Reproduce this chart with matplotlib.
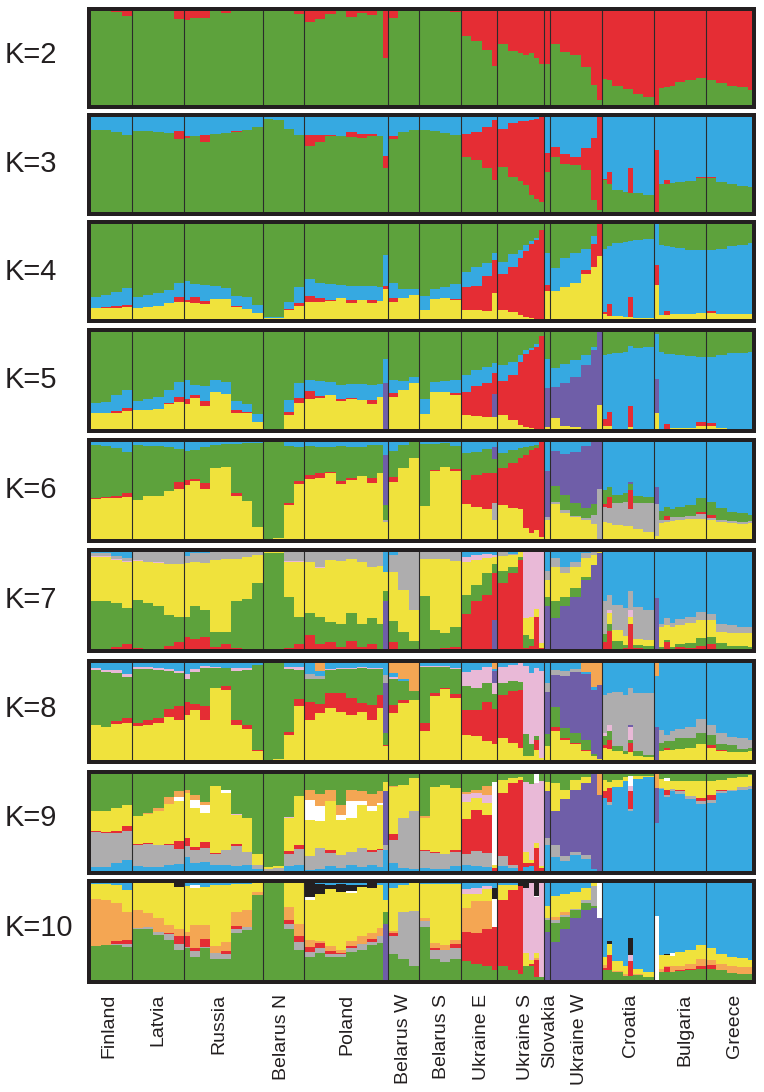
import numpy as np
import matplotlib
matplotlib.use("Agg")
import matplotlib.pyplot as plt

plt.rcParams['font.family'] = ['Liberation Sans', 'DejaVu Sans']

populations = ['Finland', 'Latvia', 'Russia', 'Belarus N', 'Poland', 'Belarus W', 'Belarus S',
               'Ukraine E', 'Ukraine S', 'Slovakia', 'Ukraine W', 'Croatia', 'Bulgaria', 'Greece']
pop_units = {
    'Finland': [2, 2, 2, 2], 'Latvia': [2, 2, 2, 2, 2], 'Russia': [1, 2, 2, 2, 2, 2, 2, 2],
    'Belarus N': [2, 2, 2, 2], 'Poland': [2, 2, 2, 2, 2, 2, 2, 1, 1], 'Belarus W': [2, 2, 2],
    'Belarus S': [2, 2, 2, 2], 'Ukraine E': [2, 2, 2, 1], 'Ukraine S': [2, 2, 1, 1, 1, 1, 1],
    'Slovakia': [1], 'Ukraine W': [2, 2, 2, 2, 1, 1], 'Croatia': [1, 1, 2, 1, 1, 2, 2],
    'Bulgaria': [1, 1, 1, 1, 2, 2, 2], 'Greece': [2, 2, 2, 2, 1],
}

GREEN, RED, BLUE, YELLOW = '#5da23c', '#e52d34', '#36a9e1', '#f0e23c'
PURPLE, GRAY, PINK, ORANGE, BLACK, WHITE = '#6f5ea8', '#aeadae', '#e9b9d7', '#f4a653', '#231f20', '#ffffff'

k2_green = [100,100,99,95, 100,100,100,100,92, 90,93,93,100,98,100,100,100, 100,100,100,97, 88,92,97,100,94,98,96,100,50, 93,100,100, 100,100,100,99, 73,68,58,41, 65,57,55,53,55,50,44, 44, 65,56,53,40,21,5, 28,27,20,17,17,12,9, 0,18,19,20,24,27,29, 27,23,20,19,16]

k3_green = [86,86,84,81, 85.5,85,84,83,77, 78,80,74,82,83,84,86,90, 98,97,87,81, 69,74,80,80,79,78,80,80,46, 77,84,86, 86,85,83,81, 58,55,46,34, 47,37,33,28,18,14,11, 42, 58,51,50,44,13,2, 34,30,23,21,20,20,18, 0,29,29,31,32,33,36, 36,32,30,27,26]
k3_red = [0,0,0,0, 0,0,0,0,8, 2,0.5,7,0,0,1,0,0, 0,0,0,0.5, 12,7,1,0,5,4,2,0,13, 3,0,0, 0,0,0,0, 24,29,44,63, 40,57,63,68,79,84,89, 20, 10,10,8,23,65,98, 1,12,0,0,26,0,0, 65,0,5,0,0,0,1, 0.5,0,0,0,0]

k4_yellow = [11.5,11.5,12,13, 11.5,13,14,17,18, 17.5,17,16,21,21,13,11,6, 1,1,10,14, 18,18,19,22,17,19.5,17,19,32, 18,22,25.5, 10,21,22,20, 10,9,8,27, 9,7,4,2,1,0.5,0, 29, 30,33.5,38,47,55,66.5, 5,3.5,3,2.5,2.5,1.5,1, 36,4.5,4.5,5,5,5.5,6, 6,5,5,5,5]
k4_red = [0,1,1.5,2, 0,0,0,0,5, 3,6,3,0.5,0,1,0,0, 0,0,1,3, 6,4,1,0,3,0,3,0,3, 4,0,0, 0,0,0,1, 23.5,26,37,35, 38.5,48,60,70,78,83,94, 7, 0,0,0,5,24,33.5, 2,12,0,0,21,0,0, 21,0,4,0,0,0,0.5, 2,0,0,0,0]
k4_blue = [12,13,14.5,18, 12,12.5,13,14,15, 19,14,17,13.5,12,10,12,9, 1,1,7,17, 18,16,17,14,15,15,15,15,32, 16,10,6, 14,11,12,16, 15.5,20,14,7, 13,13,9,6,3,2,0, 33, 24,30.5,31,22,8,0, 67,61,77,79,59,81.5,83.5, 43,73.5,68.5,71,69.5,67.5,66.5, 65,68.5,72,73,75]

k5_yellow = [16,16,17,18.5, 19.5,19.5,21,25.5,28, 26,32,23.5,38,36.5,17,17,7.5, 0,0,14,27, 31,31.5,35,29,31,30,26,33,0, 33,40,47, 15,38,38,35.5, 14,13,12,12, 14,9,4,2,1,0.5,0, 2, 11,3,2,0,0,24.5, 3,3,0,0,2,0.5,0, 16,0.5,0.5,1,1.5,1.5,3, 3,1,0.5,0,0]
k5_purple = {'Poland': [0,0,0,0,0,0,0,0,47], 'Ukraine E': [0,0,0,24], 'Slovakia': [40], 'Ukraine W': [32.5,44,52,66,81,75.5], 'Bulgaria': [36,0,0,0,0,0,0]}
k5_red = [0.5,1,2,3.5, 0,0,0,1,5, 5,3,5,0,0,3,1,0, 0,0,4,5, 8,3,0,2,0.5,0,4,0,0, 4,0,0, 0,0.5,0,1.5, 24,31.5,35,22, 35,46.5,65,75,80,84,96, 0, 0,0,0,0,0,0, 7,15,0,0,22,0,0, 0,0,5,0,0,0,4, 3,0,0,0,0]
k5_blue = [10.5,11,16,18, 9.5,11.5,12,13.5,15, 19,10,15.5,12,11.5,9,8,7.5, 0,0,12,15, 11,15,13.5,14,14.5,16,15,13,25.5, 13,9,7, 16,10,11,13, 18,16,17,10, 17,13.5,7,4,3,3,0, 30, 19,20.5,17,10,4,0, 66,59,78,79.5,62,82.5,85, 46,79,72,76,74.5,74,67, 68,75,77.5,78,79]

k6_yellow = [41,42,42,43, 40,44,44,49,52, 56,60,52,73,74,44,39,12, 0.5,1,35,57, 62,63,68,57,61,64.5,58,68,18, 59,73,83.5, 34,70,74,70, 36,33.5,31,19.5, 35,32,31,11,6,9,2, 20, 36,27,23,20,15,0, 18,16,14.5,13,13,10,7, 3.5,17,18,18.5,19.5,20.5,21, 19.5,18,17,15.5,17]
k6_gray = {'Poland': [0,0,0,0,0,0,0,0,2], 'Ukraine E': [0,0,0,17.5], 'Slovakia': [3], 'Ukraine W': [2,3,1,2,10,52], 'Croatia': [15,16,22.5,25.5,18,27,30], 'Bulgaria': [32.5,3,2,4,3.5,3.5,5], 'Greece': [2,2,2,2,2]}
k6_red = [1,1,2.5,4, 0,0,0,1,7, 5,2,6,0,0,3,0,0, 0,0,2,3, 4,5,1,2.5,1.5,0,5,0,0, 5,0,0, 0,1,0,2, 25,32.5,37,31, 38,46,52.5,76,86,85,98, 0, 0,0,0,0,0,0, 3,11,0,0,20,0,0, 0,0,4,0,0,0,2, 3,0,0,0,0]
k6_green = [54.5,52.5,49.5,43, 56.5,51.5,51.5,45,34, 30,30,36.5,23.5,24,51,60,87, 99.5,99,59,35, 29.5,26.5,25.5,36,32,30,34,28.5,15, 27,24,16.5, 64,27,25,24, 27.5,24,25,14, 16,14,10,8,4,3,0, 0, 17,15,13,10,11,0, 15,11,8.5,8.5,5.5,7,6, 0,9,9.5,8.5,10.5,11,14, 14,12,8.5,9,6]
k6_purple = {'Poland': [0,0,0,0,0,0,0,0,52], 'Ukraine E': [0,0,0,12.5], 'Slovakia': [47], 'Ukraine W': [36,42.5,53,63.5,64,48], 'Croatia': [0,0,0,0,2.5,0,0], 'Bulgaria': [18,0,0,0,0,0,0]}

k7_purple = {'Poland': [0,0,0,0,0,0,0,0,49], 'Ukraine E': [0,0,0,30], 'Slovakia': [44], 'Ukraine W': [32,44,54,71,87,99], 'Bulgaria': [53,0,0,0,0,0,0]}
k7_red = [0.5,0.5,2,5, 1,0.5,0.5,3,7, 12,10,12,2,5,1,0,0, 0,0,1,5, 14,5,7,2,8,2,5,0,0, 7,0,0, 0,0.5,1,2, 36,49,56,48, 68,78,92,1,3,33,1, 0, 0,0,0,0,0,0, 7,18.5,0,1,25.5,1,0, 0,0,7,0.5,2,1.5,3, 5,0.5,0,0,0]
k7_green = [49.5,48.5,45,37, 49.5,46.5,43.5,32,26.5, 21.5,34,28,16,13,49,52,68, 99,99,53,28, 23,28,21,24,29,24,27,26,11, 22,18,8, 55,19.5,15,21, 20,17,22,10, 12,7,3,13,7,0,0, 10, 17,10,9,3,0,0, 8,7,8,3.5,0,3,3.5, 0,2,2,2,3,4.5,8, 7,5.5,3.5,3,2.5]
k7_yellow = [45,45.5,45,48, 40.5,42.5,45,52.5,54, 55,45.5,48.5,74,75,43,42.5,29, 1,1,35.5,56.5, 52.5,50,64,65,56,63.5,53,60,19, 50,43,32, 38,73,77,68, 34,26,16,7, 15.5,12,5,18,23,8,5, 17, 36,24,22,20,10,1, 0,11.5,12,9,7.5,6,5.5, 0,21,16,20.5,20,20.5,19, 18,12,12.5,13,13.5]
k7_pink = {'Finland': [1,1,1,1], 'Latvia': [0.5,0.5,0.5,0.5,0.5], 'Russia': [0,0.5,0,0,0,0,0,0], 'Belarus N': [0,0,1,1.5], 'Poland': [0,2,0,0,0,0,0,0,0], 'Ukraine E': [5,5,4,2], 'Ukraine S': [0,0,0,68,67,59,94], 'Croatia': [0,3,0,0,7,0,0]}
k7_gray = [3,3,3,3, 8.5,10,11,12,11.5, 7,9,10.5,8,7,7,5.5,3, 0,0,10,9, 10,15,8,9,7,10,15,14,0, 18,39,60, 7,7,7,9, 0,0,0,0, 4.5,1,0,0,0,0,0, 9, 9,7,5,5,3,0, 34,16,25.5,29,20,33,31, 0,2.5,7,3.5,6,6,8.5, 6,8,9,7,7]

k8_yellow = [36,34.5,37,38, 35,36,38,44,41, 46,52,41,74,72,36,32,9, 0,1,26,56, 41,48,53.5,50,46.5,49,41.5,53.5,14, 48,58.5,62, 30,66,73,63.5, 26,24.5,20,16.5, 22.5,17.5,12,4,4,10,2, 14, 29.5,21,16,9,4,1, 12,11,9,6,8,4.5,3, 0,9,10.5,10.5,11.5,12.5,16, 12.5,9.5,8,8,9]
k8_red = [0,0,3,5, 3,5,5,9,15, 14,6,15,0,4,5,4,1, 0,0,3,7, 19,10,15.5,19,17.5,9.5,15.5,13.5,1, 9,3,0, 8,3,1,5, 26,27.5,40,36.5, 44.5,53.5,60,0,0,11,0, 0, 5,2,2,1,0,0, 3,10,0,0,9.5,0,0, 0,0,2,0,0,0,1, 3,0.5,0,0,0]
k8_green = [56.5,56.5,49.5,43, 56,53,50,39,34, 24,33,39,21,19,51,57,88, 100,99,65,30, 24,25,24,25,30,36,37,27,13, 27,20,9, 58,27,22,25.5, 24,22,19,15.5, 12,10,8,23,12,4,0, 13, 20,10,10,11,2,0, 10,8.5,5,3,3.5,4.5,2.5, 0,9,7.5,9.5,11,10.5,11, 10.5,6.5,7,3.5,3]
k8_pink = {'Finland': [2,2,3,3], 'Latvia': [2,2,2,2,2], 'Russia': [5,3,2,1,0,3,2,0], 'Belarus N': [0,0,2,3], 'Poland': [0,1,1,1,1,1,1,1,0], 'Belarus W': [2,0,0], 'Belarus S': [1,1,1,1], 'Ukraine E': [15,19,17,10.5], 'Ukraine S': [17,17,20,70,74,70,90], 'Croatia': [3,6.5,0,0,13.5,0,0]}
k8_purple = {'Poland': [0,0,0,0,0,0,0,0,51], 'Ukraine E': [0,0,0,13], 'Slovakia': [43], 'Ukraine W': [33,54,63,68,66,76], 'Croatia': [0,0,0,0,2,0,0], 'Bulgaria': [34.5,0,0,0,0,0,0]}
k8_gray = {'Poland': [5,3,0,0,0,0,0,0,8.5], 'Slovakia': [9], 'Ukraine W': [5,5,3,0,0,0], 'Croatia': [39,33,56,58,37.5,60,63.5], 'Bulgaria': [0,12.5,6,10,9.5,11.5,14], 'Greece': [10,11.5,9,11,9]}
k8_orange = {'Poland': [0,8,0,0,0,0,0,0,0], 'Belarus W': [10,16,29], 'Ukraine E': [0,0,0,6], 'Ukraine W': [0,0,0,9,25,23], 'Bulgaria': [13,0,0,0,0,0,0]}

k9_blue = [4,4,8.5,11, 5,4,4,6,7, 14,8,9,6,6,5,6,2, 0,0,5,6, 1,2,5,3,6,4,6,4,22, 8,3,2, 3,2,2,5, 6,5,4,0, 5,3,0,4,5,0,0, 27, 14,10,17,12,2,0, 75,68.5,87,92.5,62,95,96.5, 50,85,76,82,79,74.5,69, 70,80,82,84,85]
k9_gray = [36.5,35.5,31,30, 22,24,23,21,16, 12,14,15,12,16,21,14,4, 2,3,13,17, 14,22,14,14,14,20,14,18,5, 24,52,60, 18,17,16,15, 12,16,15,0, 10,3,0,0,0,0,0, 7, 13,5,3,5,0,0, 0,3,0,0,2,0,0, 0,1,2,3,3,2.5,3, 3,2,2,3,3]
k9_purple = {'Poland': [0,0,0,0,0,0,0,0,55], 'Slovakia': [48], 'Ukraine W': [35,59,64,74,98,78], 'Bulgaria': [35.5,0,0,0,0,0,0]}
k9_red = [1,1,2,5, 1,1,0,0.5,8, 8,3,6,1,0,2,0,0, 0,0,3,4, 0,0,3,0,0,0,2,1,0, 6,0,0, 1,0.5,0,2, 36,42,39,3, 65,85,94,4,3,24,3, 0, 0,0,0,0,0,0, 7,14,0,0,18,0,0, 0,0,5,0,2,0,3, 5,1,0,0,0]
k9_yellow = [20,21.5,23,22.5, 28.5,30,34.5,42,41, 46,40,30,69,58,30,35,12, 2,2,34,50, 38,28,50,36,35,44,40,45,10, 49,34,34, 33,67,71,63.5, 17,12,12,3, 13.5,5,3,12,3,5,2, 10, 29,10,10,6,0,0, 12,6.5,7,4,0,2.5,1.5, 0,9,9.5,8,9,16,18, 15,11,12,9.5,10.5]
k9_pink = {'Russia': [0,0,0,0,0,1,0,0], 'Belarus N': [0,0,1,0], 'Ukraine E': [8,5,8,0], 'Ukraine S': [0,0,0,72,79,62,88], 'Croatia': [0,0,0,0,5.5,0,0]}
k9_white = {'Latvia': [0,0,0,0,4], 'Russia': [0,8,8,0,4,0,0,0], 'Poland': [20,15,0,5,17,4,5,2,0], 'Ukraine E': [0,0,0,85.5], 'Ukraine S': [0,0,0,0,0,9,0], 'Croatia': [0,0,0,0,10,0,0], 'Bulgaria': [0,0,3,0,0,0,0]}
k9_orange = {'Latvia': [0,1,3,7,6], 'Russia': [3,5,3,0,0,0,0,0], 'Poland': [11,12,12,10,12,10,12,12,0], 'Belarus W': [1,0,0], 'Belarus S': [2,0,0,0], 'Ukraine E': [2,3,10,0], 'Ukraine W': [0,0,0,0,0,22], 'Bulgaria': [14.5,0,0,0,0,0,0]}

k10_purple = {'Poland': [0,0,0,0,0,0,0,0,58], 'Slovakia': [50], 'Ukraine W': [39.5,53,63.5,72,74,63.5]}
k10_green = [35,36,36,34.5, 53,52.5,46,41,31, 33,24,32.5,21.5,21.5,48,51.5,88, 99.5,100,53,31, 24,27.5,24,24,29,31,36,38,12, 27,22,14, 55,22,19,22, 20,17,14,10, 14,10,6,14,14,3.5,3, 12, 19,12,8.5,7,2,0, 10,10,8.5,4.5,4.5,5,3.5, 0,8,8,8.5,9,10,11, 11,10,7,6,6]
k10_gray = {'Finland': [0,0,1,3], 'Latvia': [1,2,4,6,6], 'Russia': [1,6,2,6,5,5,3,0], 'Belarus N': [0,0,5,8], 'Poland': [5,6,3,3,4,6,3,7,0], 'Belarus W': [18,48,57], 'Belarus S': [6,9,12,11], 'Slovakia': [2], 'Ukraine W': [3.5,2,1,3,21,0]}
k10_red = [0,0,3,4, 0,0,0,1,8, 11,3,8,0,3,3,0,0, 0.5,0,4,6, 5,5,3,1,2,0,3,0,0, 3,0,0, 0,2,0,4, 30,31,39,45, 68.5,83,91,0,3,17,0, 0, 0,0,0,0,0,0, 2,16,0,0,15,0,0, 0,0,5,0,1,1,3, 4,0,0,0,0]
k10_orange = [48.5,46.5,39,29, 18,14.5,13.5,9,8, 5,24,14.5,8,10,14,17.5,3, 0,0,13,13, 7,2,5,3,5,8,6,9,0, 3,0,0, 3,5,5,4, 24,33,28,0, 0,0,0,0,0,2,0, 0, 3,3,0,0,0,0, 3,0,1,2,0,1,0, 0,3,1,6,4,5,8, 6,7,7,7,7]
k10_yellow = [15.5,16.5,19,22.5, 28,31,36.5,43,43, 47,38,39,62,58.5,28.5,27,9, 0,0,25,42, 41,48,59,60,50,51,47,44,12.5, 44,28,29, 35,61,63,58, 15,8,13,0, 15.5,5,0,14,4,5,0, 12, 21.5,19,18,12.5,3,0, 9,11,10.5,7.5,0,5,5, 0,15,12,10,15,15,14, 12,10,10,10,8]
k10_pink = {'Ukraine E': [5,6,3,0], 'Ukraine S': [0,0,0,67,79,58.5,97], 'Croatia': [0,0,0,0,6,0,0]}
k10_white = {'Russia': [0,3,0,0,0,0,0,0], 'Poland': [4,0,0,0,2,0,0,0,0], 'Ukraine E': [0,0,0,29], 'Ukraine S': [0,0,0,0,0,1,0], 'Ukraine W': [0,0,0,0,0,36.5], 'Bulgaria': [66,0,0,3,0,0,0]}
k10_black = {'Latvia': [0,0,0,0,4], 'Poland': [14,10,4,8,6,2,5,0,0], 'Ukraine E': [0,0,0,11], 'Ukraine S': [0,0,3,5,0,13,0], 'Croatia': [0,3,0,0,18,0,0], 'Bulgaria': [0,0,1,0,0,0,0]}

# each panel: stacked from the bottom; None is whatever remains up to 100 %
panels = [
    ('K=2', [(GREEN, k2_green), (RED, None)]),
    ('K=3', [(GREEN, k3_green), (RED, k3_red), (BLUE, None)]),
    ('K=4', [(YELLOW, k4_yellow), (RED, k4_red), (BLUE, k4_blue), (GREEN, None)]),
    ('K=5', [(YELLOW, k5_yellow), (PURPLE, k5_purple), (RED, k5_red), (BLUE, k5_blue), (GREEN, None)]),
    ('K=6', [(YELLOW, k6_yellow), (GRAY, k6_gray), (RED, k6_red), (GREEN, k6_green), (PURPLE, k6_purple), (BLUE, None)]),
    ('K=7', [(PURPLE, k7_purple), (RED, k7_red), (GREEN, k7_green), (YELLOW, k7_yellow), (PINK, k7_pink), (GRAY, k7_gray), (BLUE, None)]),
    ('K=8', [(YELLOW, k8_yellow), (RED, k8_red), (GREEN, k8_green), (PINK, k8_pink), (PURPLE, k8_purple), (GRAY, k8_gray), (BLUE, None), (ORANGE, k8_orange)]),
    ('K=9', [(BLUE, k9_blue), (GRAY, k9_gray), (PURPLE, k9_purple), (RED, k9_red), (YELLOW, k9_yellow), (PINK, k9_pink), (WHITE, k9_white), (ORANGE, k9_orange), (GREEN, None)]),
    ('K=10', [(PURPLE, k10_purple), (GREEN, k10_green), (GRAY, k10_gray), (RED, k10_red), (ORANGE, k10_orange), (YELLOW, k10_yellow), (PINK, k10_pink), (WHITE, k10_white), (BLACK, k10_black), (BLUE, None)]),
]

# layout in pixels of the 764x1092 figure
W, H = 764, 1092
panel_boxes = [(7, 109), (113, 216), (220, 323), (328, 433), (438, 543), (548, 653), (659, 764), (770, 875), (879, 984)]
panel_label_y = [55, 164, 272, 380, 490, 600, 709, 818, 928]
frame_left, frame_right, bar_left, bar_right = 89, 754.5, 90.5, 753
frame_px = 4
pop_label_x = [109, 158, 219, 282, 347, 404, 442, 481, 525, 550, 579, 631, 685, 734]
pop_label_top = 994
DARK = '#231f20'

units = np.array([u for p in populations for u in pop_units[p]], dtype=float)
edges = np.concatenate([[0], np.cumsum(units)])
centers = (edges[:-1] + edges[1:]) / 2
boundaries = np.cumsum([sum(pop_units[p]) for p in populations])[:-1]


def expand(values):
    if isinstance(values, dict):
        out = []
        for p in populations:
            out += values.get(p, [0] * len(pop_units[p]))
        values = out
    arr = np.array(values, dtype=float)
    if arr.size != units.size:
        raise ValueError(f'wrong length {arr.size}')
    return arr


fig = plt.figure(figsize=(W / 100, H / 100), dpi=100, facecolor='white')
px_per_unit = (bar_right - bar_left) / units.sum()

for (label, layers), (top, bot), ly in zip(panels, panel_boxes, panel_label_y):
    top_mid, bot_mid = top + frame_px / 2, bot - frame_px / 2
    ax = fig.add_axes([frame_left / W, 1 - bot_mid / H, (frame_right - frame_left) / W, (bot_mid - top_mid) / H])
    inner = bot_mid - top_mid - frame_px
    pad = (frame_px / 2) / inner * 100
    ax.set_ylim(-pad, 100 + pad)
    ax.set_xlim(-(bar_left - frame_left) / px_per_unit, units.sum() + (frame_right - bar_right) / px_per_unit)

    known = [expand(v) for _, v in layers if v is not None]
    rest = np.clip(100 - np.sum(known, axis=0), 0, None)
    bottom = np.zeros(units.size)
    for color, values in layers:
        h = rest if values is None else expand(values)
        keep = h > 0
        ax.bar(centers[keep], h[keep], width=units[keep], bottom=bottom[keep], color=color, linewidth=0, zorder=1)
        bottom = bottom + h
    for b in boundaries:
        ax.axvline(b, color='#2b2b2b', lw=0.8, zorder=3)
    ax.set_xticks([])
    ax.set_yticks([])
    for s in ax.spines.values():
        s.set_linewidth(frame_px * 0.72)
        s.set_color(DARK)
        s.set_zorder(5)
    fig.text(5 / W, 1 - ly / H, label, fontsize=21, color=DARK, ha='left', va='center')

for name, x in zip(populations, pop_label_x):
    fig.text(x / W, 1 - pop_label_top / H, name, rotation=90, fontsize=14, color=DARK, ha='center', va='top')

fig.savefig('out.png', dpi=100)
